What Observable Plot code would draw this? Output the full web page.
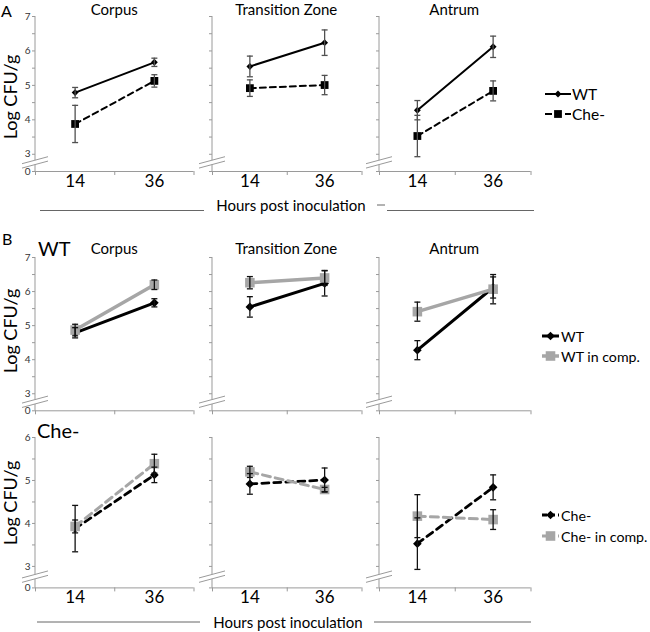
<!DOCTYPE html>
<html><head><meta charset="utf-8">
<script src="https://cdn.jsdelivr.net/npm/d3@7"></script>
<script src="https://cdn.jsdelivr.net/npm/@observablehq/plot@0.6"></script>
<style>
body{margin:0;background:#fff;}
#fig{position:relative;width:650px;height:632px;overflow:hidden;}
#fig svg{position:absolute;}
</style></head><body><div id="fig"></div>
<script>
// ---------------- data ----------------
const regions = ["Corpus", "Transition Zone", "Antrum"];
const hours = ["14", "36"];
// panel A (and reused in B): mean log CFU/g per region, per hour
const wtMean  = [[4.79, 5.67], [5.55, 6.24], [4.28, 6.12]];
const wtErr   = [[0.15, 0.12], [0.30, 0.37], [0.28, 0.31]];
const cheMean = [[3.88, 5.13], [4.92, 5.01], [3.53, 4.84]];
const cheErr  = [[0.54, 0.18], [0.24, 0.28], [0.60, 0.29]];
// panel B competition
const wtCompMean  = [[4.87, 6.20], [6.26, 6.40], [5.41, 6.07]];
const wtCompErr   = [[0.17, 0.14], [0.18, 0.22], [0.28, 0.43]];
const cheCompMean = [[3.93, 5.39], [5.20, 4.79], [4.17, 4.09]];
const cheCompErr  = [[0.15, 0.22], [0.13, 0.05], [0.50, 0.23]];
const yTitle = "Log CFU/g";
const xTitle = "Hours post inoculation";

// ---------------- style ----------------
const FONT = "Lato, 'Open Sans', sans-serif";
const AX = "#9a9a9a";
const GRAY = "#a6a6a6";
const fig = document.getElementById("fig");

const cols = [{left: 35, right: 193.5}, {left: 211.5, right: 361}, {left: 378.5, right: 530}];

const capSymbol = {draw(ctx, size) { const w = Math.sqrt(size / Math.PI); ctx.moveTo(-w, 0); ctx.lineTo(w, 0); }};

const rowsCfg = [
  {top: 16, bottom: 171, yMin: 2.5, yMax: 7, xLabels: true, errColor: "#505050", legendFont: 15.5,
   series: [
     {key: "WT", mean: wtMean, err: wtErr, color: "#000", width: 2, dash: null, symbol: "diamond2", r: 3.1},
     {key: "Che-", mean: cheMean, err: cheErr, color: "#000", width: 2, dash: "6,4", symbol: "square", r: 4.4}
   ]},
  {top: 256.7, bottom: 410, yMin: 2.5, yMax: 7, xLabels: false, errColor: "#111", legendFont: 14.2,
   series: [
     {key: "WT", mean: wtMean, err: wtErr, color: "#000", width: 3, dash: null, symbol: "diamond2", r: 3.9},
     {key: "WT in comp.", mean: wtCompMean, err: wtCompErr, color: GRAY, width: 3.5, dash: null, symbol: "square", r: 5.4}
   ]},
  {top: 437.3, bottom: 587.7, yMin: 2.5, yMax: 6, xLabels: true, errColor: "#111", legendFont: 14.2,
   series: [
     {key: "Che-", mean: cheMean, err: cheErr, color: "#000", width: 2.8, dash: "7,5", symbol: "diamond2", r: 3.9},
     {key: "Che- in comp.", mean: cheCompMean, err: cheCompErr, color: GRAY, width: 3, dash: "8,5", symbol: "square", r: 5.4}
   ]}
];

function yAxisLine(cfg) {
  return (index, scales) => {
    const {x, y} = scales;
    const g = d3.create("svg:g").attr("stroke", AX).attr("fill", "none").attr("stroke-width", 1);
    const x0 = x(0);
    const yb = y((cfg.yMin + 3) / 2);
    const gap = 2.2;
    g.append("line").attr("x1", x0).attr("x2", x0).attr("y1", y(cfg.yMin)).attr("y2", yb + gap);
    g.append("line").attr("x1", x0).attr("x2", x0).attr("y1", yb - gap).attr("y2", y(cfg.yMax));
    for (const o of [-gap, gap]) {
      g.append("line").attr("x1", x0 - 13).attr("y1", yb + o + 3.5).attr("x2", x0 + 13).attr("y2", yb + o - 3.5);
    }
    return g.node();
  };
}

function makePanel(cfg, ci) {
  const col = cols[ci];
  const mL = 24, mR = 6, mT = 8, mB = 30;
  const w = col.right - col.left, h = cfg.bottom - cfg.top;
  const yTicks = d3.range(0, Math.round((cfg.yMax - cfg.yMin) / 0.5) + 1).map(i => cfg.yMin + i * 0.5);
  const marks = [
    Plot.ruleY([cfg.yMin], {stroke: AX}),
    Plot.axisX({ticks: [0, 1, 2], tickSize: 4, tickFormat: () => "", stroke: AX, label: null}),
    Plot.axisY({ticks: yTicks, tickSize: 3, tickPadding: 2, label: null, stroke: AX, fill: "#333", fontSize: 10,
      tickFormat: d => ci !== 0 ? "" : (d === cfg.yMin ? "0" : Number.isInteger(d) ? String(d) : "")}),
    yAxisLine(cfg)
  ];
  if (cfg.xLabels) {
    marks.push(Plot.axisX({ticks: [0.5, 1.5], tickSize: 0, tickPadding: 3, label: null, fontSize: 17, fill: "#000",
      tickFormat: d => hours[Math.round(d - 0.5)]}));
  }
  const sets = cfg.series.map(s => ({s, data: hours.map((hr, hi) => ({
    key: s.key, hour: hr, x: hi + 0.5, y: s.mean[ci][hi],
    lo: s.mean[ci][hi] - s.err[ci][hi], hi: s.mean[ci][hi] + s.err[ci][hi]}))}));
  for (const {s, data} of sets) {
    marks.push(Plot.line(data, {x: "x", y: "y", stroke: s.color, strokeWidth: s.width, strokeDasharray: s.dash}));
  }
  for (const {s, data} of sets) {
    marks.push(Plot.dot(data, {x: "x", y: "y", symbol: s.symbol, r: s.r, fill: s.color, stroke: "none"}));
  }
  for (const {s, data} of sets) {
    marks.push(Plot.ruleX(data, {x: "x", y1: "lo", y2: "hi", stroke: cfg.errColor, strokeWidth: 1.3}));
    marks.push(Plot.dot(data, {x: "x", y: "lo", symbol: capSymbol, r: 3, stroke: cfg.errColor, fill: "none", strokeWidth: 1.3}));
    marks.push(Plot.dot(data, {x: "x", y: "hi", symbol: capSymbol, r: 3, stroke: cfg.errColor, fill: "none", strokeWidth: 1.3}));
  }
  const svg = Plot.plot({
    width: w + mL + mR, height: h + mT + mB,
    marginLeft: mL, marginRight: mR, marginTop: mT, marginBottom: mB,
    x: {type: "linear", domain: [0, 2], label: null},
    y: {domain: [cfg.yMin, cfg.yMax], label: null},
    style: {fontFamily: FONT, fontSize: "10px", background: "transparent", overflow: "visible", maxWidth: "none"},
    marks
  });
  svg.style.left = (col.left - mL) + "px";
  svg.style.top = (cfg.top - mT) + "px";
  svg.style.width = (w + mL + mR) + "px";
  svg.style.height = (h + mT + mB) + "px";
  fig.appendChild(svg);
}

rowsCfg.forEach(cfg => regions.forEach((r, ci) => makePanel(cfg, ci)));

// ---------------- annotations ----------------
const ov = d3.select(fig).append("svg").attr("width", 650).attr("height", 632)
  .style("left", "0px").style("top", "0px").style("font-family", FONT);

function txt(x, y, s, size, opts = {}) {
  const t = ov.append("text").attr("x", x).attr("y", y).attr("font-size", size)
    .attr("dominant-baseline", "central").attr("text-anchor", opts.anchor || "start")
    .attr("fill", opts.fill || "#000").text(s);
  if (opts.rotate) t.attr("transform", `rotate(-90 ${x} ${y})`);
  return t;
}
function seg(x1, y1, x2, y2, stroke, width = 1, dash = null) {
  const l = ov.append("line").attr("x1", x1).attr("y1", y1).attr("x2", x2).attr("y2", y2)
    .attr("stroke", stroke).attr("stroke-width", width);
  if (dash) l.attr("stroke-dasharray", dash);
}
function sym(type, cx, cy, r, fill) {
  ov.append("path").attr("d", d3.symbol(type === "square" ? d3.symbolSquare : d3.symbolDiamond2, Math.PI * r * r)())
    .attr("transform", `translate(${cx},${cy})`).attr("fill", fill);
}

txt(1, 10, "A", 16);
txt(2, 238, "B", 16);
txt(38, 248, "WT", 20);
txt(37, 430, "Che-", 20);

const centers = cols.map(c => (c.left + c.right) / 2);
regions.forEach((r, i) => { txt(centers[i], 9, r, 15, {anchor: "middle"}); txt(centers[i], 248, r, 15, {anchor: "middle"}); });

txt(10, 97, yTitle, 18, {anchor: "middle", rotate: true});
txt(10, 331, yTitle, 18, {anchor: "middle", rotate: true});
txt(10, 503, yTitle, 18, {anchor: "middle", rotate: true});

// x titles
txt(291, 205, xTitle, 15, {anchor: "middle"});
seg(40, 210.5, 204, 210.5, "#666");
seg(377, 205, 385, 205, "#666");
seg(387, 210.5, 534, 210.5, "#666");
txt(288, 622, xTitle, 15, {anchor: "middle"});
seg(37, 622, 200, 622, "#666");
seg(374, 622, 531, 622, "#666");

// legends
function legendRow(y, s, x0, x1, tx, fs) {
  seg(x0, y, x1, y, s.color, s.width, s.legendDash || s.dash);
  sym(s.symbol, (x0 + x1) / 2, y, s.r, s.color);
  txt(tx, y, s.key, fs);
}
const la = rowsCfg[0].series;
legendRow(94, la[0], 545, 571, 572, rowsCfg[0].legendFont);
legendRow(114, {...la[1], legendDash: "7,13,6"}, 545, 571, 572, rowsCfg[0].legendFont);
const lb = rowsCfg[1].series;
legendRow(336, lb[0], 542, 559, 561, rowsCfg[1].legendFont);
legendRow(356, lb[1], 542, 559, 561, rowsCfg[1].legendFont);
const lc = rowsCfg[2].series;
legendRow(515, {...lc[0], legendDash: "5,3"}, 542, 559, 561, rowsCfg[2].legendFont);
legendRow(536, {...lc[1], legendDash: "5,3"}, 542, 559, 561, rowsCfg[2].legendFont);
</script></body></html>
